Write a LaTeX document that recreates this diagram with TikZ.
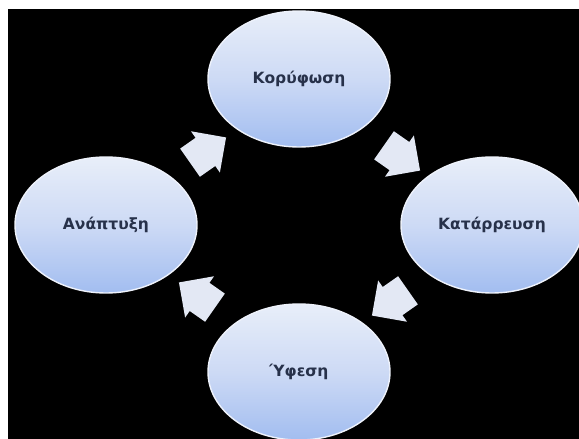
\documentclass[tikz,border=0pt]{standalone}
\usepackage{fontspec}
\setmainfont{DejaVu Sans}
\usetikzlibrary{shapes.geometric,shapes.arrows}
\definecolor{phasetop}{HTML}{E8EEF9}
\definecolor{phasemid}{HTML}{CDDAF5}
\definecolor{phasebot}{HTML}{A2BDF0}
\definecolor{phaseedge}{HTML}{EEF2FB}
\definecolor{phasetext}{HTML}{27314A}
\definecolor{arrowfill}{HTML}{E3E8F4}
\begin{document}
\begin{tikzpicture}[x=1pt,y=-1pt,
  phase/.style={ellipse, minimum width=182pt, minimum height=136pt, inner sep=0pt,
    top color=phasetop, bottom color=phasebot, middle color=phasemid,
    draw=phaseedge, line width=1.4pt,
    text=phasetext, font=\bfseries\fontsize{15.5}{17}\selectfont},
  flowarrow/.style={single arrow, fill=arrowfill, draw=none,
    minimum height=44pt, inner xsep=0pt, inner ysep=17pt,
    single arrow head extend=8pt}]
  \useasboundingbox (0,0) rectangle (579,439);
  \fill[white] (0,0) rectangle (579,439);
  \fill[black] (8,9) rectangle (579,439);
  \begin{scope}
    \clip (8,9) rectangle (579,439);
    \node[phase] (peak)     at (299,79)  {Κορύφωση};
    \node[phase] (growth)   at (106,225) {Ανάπτυξη};
    \node[phase] (collapse) at (492,225) {Κατάρρευση};
    \node[phase] (recess)   at (299,372) {Ύφεση};
    \node[flowarrow, rotate=35]  (a1) at (201,155) {};
    \node[flowarrow, rotate=-35] (a2) at (395,153) {};
    \node[flowarrow, rotate=145] (a3) at (204,300) {};
    \node[flowarrow, rotate=215] (a4) at (397,298) {};
  \end{scope}
\end{tikzpicture}
\end{document}
